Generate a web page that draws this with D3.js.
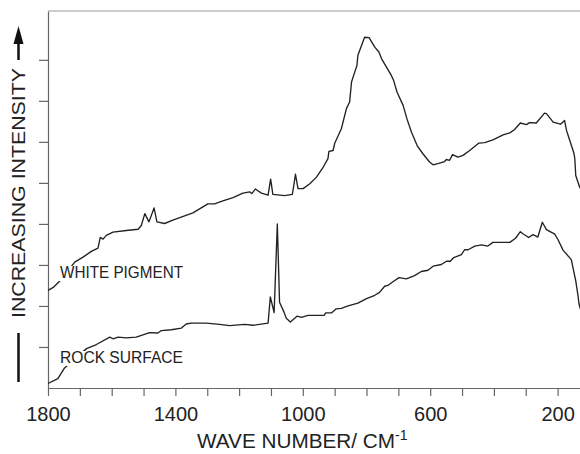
<!DOCTYPE html>
<html>
<head>
<meta charset="utf-8">
<script src="https://cdn.jsdelivr.net/npm/d3@7"></script>
<style>
  body { margin: 0; background: #fff; }
  svg { display: block; font-family: "Liberation Sans", Arial, sans-serif; }
</style>
</head>
<body>
<div id="grafico"></div>
<script>
// Raman spectra: white pigment vs rock surface
const whiteWave = [1800,1782,1763,1716,1690,1664,1643,1636,1627,1617,1596,1554,1517,1507,1496,1483,1467,1458,1434,1408,
  1345,1298,1277,1251,1219,1188,1167,1160,1149,1130,1109,1101,1094,1057,1033,1029,1023,1015,999,978,
  957,937,921,918,905,900,879,863,853,847,837,830,827,806,792,774,761,753,722,715,
  704,685,673,659,641,623,602,591,576,555,549,539,530,513,497,476,447,429,403,371,
  350,335,317,298,288,267,241,235,214,191,178,172,162,149,146,143,131,121];
const whiteIntensity = [2.38,2.46,2.61,3.07,3.19,3.33,3.41,3.67,3.63,3.72,3.80,3.84,3.87,3.96,4.25,4.05,4.39,4.05,4.01,4.09,
  4.27,4.49,4.49,4.56,4.64,4.75,4.78,4.74,4.85,4.75,4.70,5.09,4.72,4.69,4.72,4.90,5.21,4.86,4.86,4.98,
  5.14,5.37,5.59,5.77,5.79,5.96,6.32,6.81,6.97,7.46,7.70,7.86,8.11,8.55,8.54,8.31,8.19,8.03,7.62,7.50,
  7.21,6.89,6.56,6.24,5.91,5.71,5.51,5.44,5.47,5.52,5.57,5.55,5.69,5.63,5.67,5.79,5.97,5.98,6.05,6.17,
  6.22,6.30,6.46,6.42,6.47,6.46,6.70,6.69,6.48,6.43,6.52,6.28,6.04,5.73,5.59,5.18,4.90,4.77];

const rockWave = [1800,1769,1748,1679,1648,1606,1596,1580,1554,1523,1481,1455,1444,1413,1381,1366,1350,1303,1261,1230,
  1182,1156,1109,1102,1090,1080,1073,1059,1052,1039,1018,1004,984,933,928,910,895,879,858,827,
  800,774,759,743,733,717,698,675,649,628,607,591,565,549,537,526,502,492,481,460,
  439,419,403,350,332,317,309,291,277,262,248,235,209,199,183,157,143,136,133,127];
const rockIntensity = [0.11,0.23,0.49,0.96,1.06,1.24,1.20,1.24,1.22,1.24,1.35,1.34,1.40,1.42,1.46,1.56,1.58,1.58,1.55,1.52,
  1.55,1.53,1.58,2.22,1.84,4.00,2.09,1.85,1.70,1.61,1.75,1.72,1.77,1.77,1.83,1.83,1.93,1.94,2.00,2.07,
  2.18,2.26,2.33,2.48,2.50,2.59,2.69,2.66,2.74,2.84,2.87,2.97,3.01,3.09,3.09,3.18,3.25,3.37,3.37,3.46,
  3.49,3.46,3.55,3.55,3.65,3.81,3.76,3.67,3.74,3.68,4.04,3.86,3.75,3.62,3.36,3.13,2.61,2.26,2.06,1.89];

const xTicks = d3.range(1800, 99, -100);
const xTickLabels = [1800, 1400, 1000, 600, 200];
const yTicks = [1, 2, 3, 4, 5, 6, 7, 8];

const ancho = 580, alto = 454;
const margen = { top: 11, left: 48, bottom: 388 };

const svg = d3.select("#grafico").append("svg")
  .attr("width", ancho).attr("height", alto);

const x = d3.scaleLinear().domain([1800, 100]).range([margen.left, margen.left + 17 * 31.85]);
const y = d3.scaleLinear().domain([0, 9.19]).range([margen.bottom, margen.top]);

const colorEje = "#666";

// Ejes
const ejeX = svg.append("g")
  .attr("transform", `translate(0,${margen.bottom})`)
  .call(d3.axisBottom(x).tickValues(xTicks).tickSize(8).tickSizeOuter(0).tickPadding(11)
    .tickFormat(d => xTickLabels.includes(d) ? d : ""));
ejeX.selectAll("text").style("font-size", "20px").attr("fill", "#222");

const ejeY = svg.append("g")
  .attr("transform", `translate(${margen.left},0)`)
  .call(d3.axisLeft(y).tickValues(yTicks).tickSize(9).tickSizeOuter(0).tickFormat(""));

svg.selectAll(".domain, .tick line").attr("stroke", colorEje).attr("stroke-width", 1.2);

// Marco superior
svg.append("line")
  .attr("x1", margen.left).attr("x2", ancho + 10)
  .attr("y1", margen.top).attr("y2", margen.top)
  .attr("stroke", "#999").attr("stroke-width", 1.2);

// Curvas
const linea = d3.line().x(d => x(d[0])).y(d => y(d[1]));
const series = [
  d3.zip(whiteWave, whiteIntensity),
  d3.zip(rockWave, rockIntensity)
];
svg.selectAll(".espectro").data(series).enter().append("path")
  .attr("class", "espectro")
  .attr("fill", "none")
  .attr("stroke", "#222")
  .attr("stroke-width", 1.35)
  .attr("stroke-linejoin", "round")
  .attr("d", linea);

// Etiquetas de las curvas con fondo blanco
const etiquetas = [
  { texto: "WHITE PIGMENT", x: 60, y: 278 },
  { texto: "ROCK SURFACE", x: 60, y: 363 }
];
etiquetas.forEach(e => {
  const g = svg.append("g");
  const t = g.append("text")
    .attr("x", e.x).attr("y", e.y)
    .attr("fill", "#222")
    .style("font-size", "16px")
    .attr("textLength", 123).attr("lengthAdjust", "spacingAndGlyphs")
    .text(e.texto);
  const b = t.node().getBBox();
  g.insert("rect", "text")
    .attr("x", b.x - 2).attr("y", b.y + 2)
    .attr("width", b.width + 4).attr("height", b.height - 2)
    .attr("fill", "#fff");
});

// Título eje Y con flecha
svg.append("text")
  .attr("transform", "translate(25,193) rotate(-90)")
  .attr("text-anchor", "middle")
  .attr("fill", "#222")
  .style("font-size", "19px")
  .attr("textLength", 250).attr("lengthAdjust", "spacingAndGlyphs")
  .text("INCREASING INTENSITY");

svg.append("line")
  .attr("x1", 18.5).attr("x2", 18.5).attr("y1", 40).attr("y2", 60)
  .attr("stroke", "#111").attr("stroke-width", 2.5);
svg.append("path")
  .attr("d", "M18.5,26 L13.5,44 L23.5,44 Z")
  .attr("fill", "#111");
svg.append("line")
  .attr("x1", 18.5).attr("x2", 18.5).attr("y1", 333).attr("y2", 382)
  .attr("stroke", "#111").attr("stroke-width", 2.5);

// Título eje X
const tituloX = svg.append("text")
  .attr("x", 197).attr("y", 448)
  .attr("fill", "#222")
  .style("font-size", "20px");
tituloX.append("tspan")
  .attr("textLength", 198).attr("lengthAdjust", "spacingAndGlyphs")
  .text("WAVE NUMBER/ CM");
tituloX.append("tspan").attr("dy", -8).style("font-size", "14px").text("-1");
</script>
</body>
</html>
